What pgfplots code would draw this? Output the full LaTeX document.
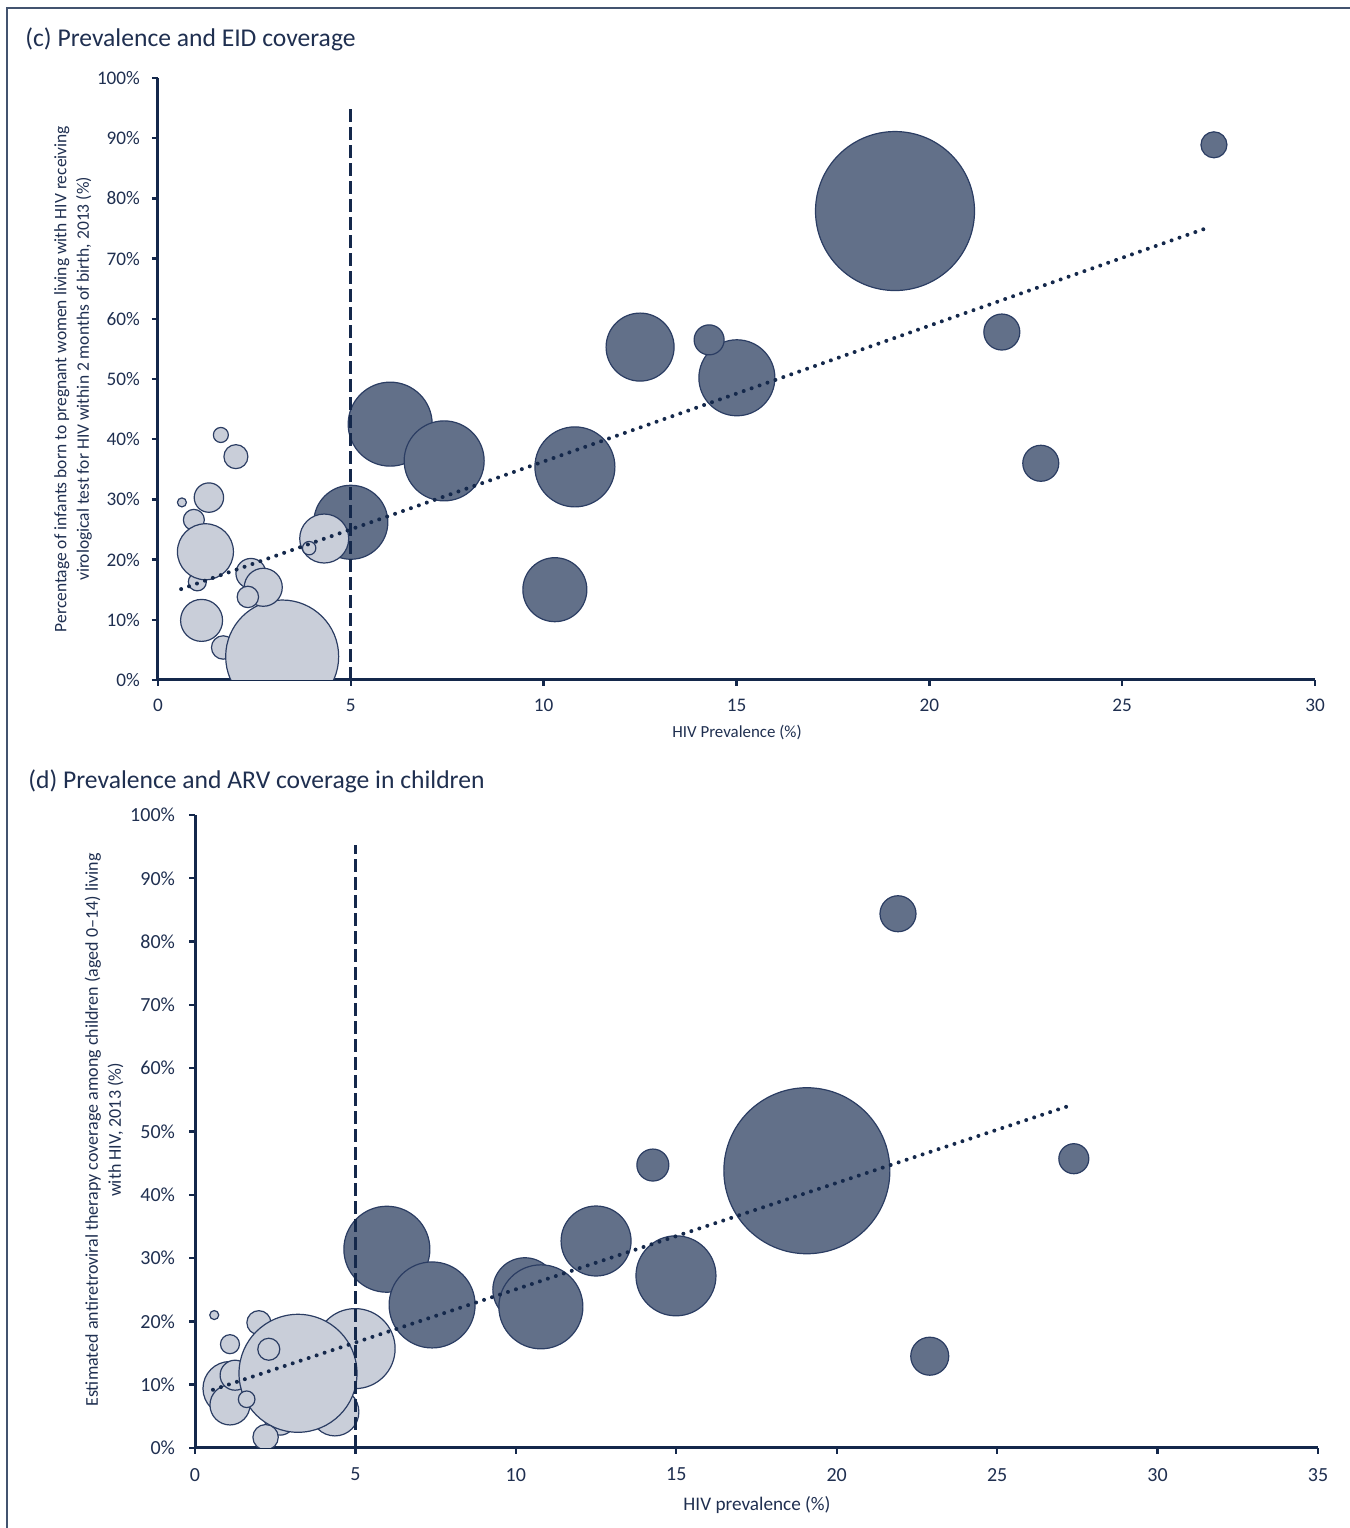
\documentclass[border=0pt]{standalone}
\usepackage{fontspec}
\setmainfont{Carlito}
\usepackage{pgfplots}
\usepackage{pgfplotstable}
\pgfplotsset{compat=1.18}
\definecolor{navy}{HTML}{14284B}
\definecolor{txt}{HTML}{1F2F50}
\definecolor{darkb}{HTML}{627089}
\definecolor{lightb}{HTML}{C9CED9}
\definecolor{edge}{HTML}{2B3D63}

% panel (c): x = HIV prevalence, y = EID coverage (%), r = bubble radius (pt)
\pgfplotstableread{
x y r
19.11 77.9 39.75
27.38 88.9 6.5
21.88 57.8 9
22.89 36.0 9
12.50 55.3 17
15.01 50.2 19
14.29 56.5 7.5
10.81 35.4 20
10.29 15.0 16
6.02 42.5 21
7.42 36.4 20
5.00 26.2 18.5
}\cdark
\pgfplotstableread{
x y r
1.69 5.4 5.85
3.22 3.9 28.25
1.63 40.7 3.75
2.02 37.1 6
0.62 29.5 2.25
1.32 30.3 7.35
0.93 26.6 5.25
1.02 16.3 4.5
1.23 21.3 14
2.41 17.7 7.5
2.73 15.4 9.5
2.33 13.8 5.35
1.13 9.9 10.5
4.31 23.5 12.25
3.92 21.9 3.35
}\clight
% panel (d)
\pgfplotstableread{
x y r
19.07 43.8 41.5
21.91 84.4 9
27.39 45.7 7.5
22.90 14.5 9.5
14.27 44.7 8
12.50 32.7 17.5
14.99 27.2 20
10.28 25.0 16
10.78 22.3 21
5.98 31.4 21.5
7.39 22.6 21.5
}\ddark
\pgfplotstableread{
x y r
0.60 21.0 2.25
1.99 19.8 6
1.09 16.4 4.75
1.09 9.4 13.5
1.09 6.8 10
1.25 11.5 7.5
2.65 4.4 7.5
4.36 5.7 12
4.99 15.7 20
3.21 11.8 29.5
2.30 15.6 5.5
1.61 7.7 4.15
2.20 1.7 6.35
}\dlight

\pgfplotsset{
  bubbles/.style={only marks, mark=*, scatter,
    scatter/use mapped color={draw=edge, fill=#1},
    visualization depends on={\thisrow{r} \as \rr},
    scatter/@pre marker code/.append style={/tikz/mark size=\rr pt},
    mark options={line width=0.6pt}},
  trend/.style={navy, line width=2pt, dash pattern=on 0pt off 4.2pt, line cap=round, no marks},
  vdash/.style={navy, line width=1.5pt, dash pattern=on 6.5pt off 2.5pt, no marks},
  common/.style={scale only axis, anchor=south west,
    clip marker paths=true,
    axis x line=bottom, axis y line=left,
    axis line style={-, navy, line width=1.5pt},
    tick align=outside, major tick length=3pt,
    tick style={navy, line width=1.2pt},
    ymin=0, ymax=100, ytick={0,10,...,100},
    yticklabel={\pgfmathprintnumber{\tick}\%},
    /pgf/number format/assume math mode=true,
    ticklabel style={text=txt}},
}

\begin{document}
\begin{tikzpicture}
\useasboundingbox (0,0) rectangle (675pt,764pt);
\draw[navy!80, line width=0.8pt] (3.5pt,0) -- (3.5pt,760pt) -- (675pt,760pt);

% ---------- panel (c)
\begin{axis}[common, at={(79pt,424pt)}, width=578.5pt, height=301pt,
  xmin=0, xmax=30, xtick={0,5,...,30},
  ticklabel style={font=\fontsize{9.6}{11}\selectfont},
  xticklabel style={yshift=-3pt}, yticklabel style={xshift=-2.5pt}]
\addplot[bubbles=darkb] table {\cdark};
\addplot[bubbles=lightb] table {\clight};
\addplot[vdash] coordinates {(5,0) (5,95.2)};
\addplot[trend] coordinates {(0.6,15.1) (27.25,75.2)};
\end{axis}
\node[anchor=west, inner sep=0pt, text=txt, font=\fontsize{12.8}{14}\selectfont] at (12.5pt,744.5pt) {(c) Prevalence and EID coverage};
\node[text=txt, font=\fontsize{8.45}{10}\selectfont] at (368.5pt,398pt) {HIV Prevalence (\%)};
\node[text=txt, rotate=90, align=center, font=\fontsize{8.75}{11.2}\selectfont] at (36.5pt,574.5pt)
  {Percentage of infants born to pregnant women living with HIV receiving\\virological test for HIV within 2 months of birth, 2013 (\%)};

% ---------- panel (d)
\begin{axis}[common, at={(97.5pt,40pt)}, width=561.5pt, height=316.5pt,
  xmin=0, xmax=35, xtick={0,5,...,35},
  ticklabel style={font=\fontsize{10}{12}\selectfont},
  xticklabel style={yshift=-3.5pt}, yticklabel style={xshift=-3.5pt}]
\addplot[bubbles=darkb] table {\ddark};
\addplot[bubbles=lightb] table {\dlight};
\addplot[vdash] coordinates {(5,0) (5,95.3)};
\addplot[trend] coordinates {(0.56,9.2) (27.33,54.2)};
\end{axis}
\node[anchor=west, inner sep=0pt, text=txt, font=\fontsize{12.8}{14}\selectfont] at (14pt,373.5pt) {(d) Prevalence and ARV coverage in children};
\node[text=txt, font=\fontsize{9.6}{11}\selectfont] at (378.5pt,11.5pt) {HIV prevalence (\%)};
\node[text=txt, rotate=90, align=center, font=\fontsize{9}{11.5}\selectfont] at (52pt,199pt)
  {Estimated antiretroviral therapy coverage among children (aged 0–14) living\\with HIV, 2013 (\%)};
\end{tikzpicture}
\end{document}
